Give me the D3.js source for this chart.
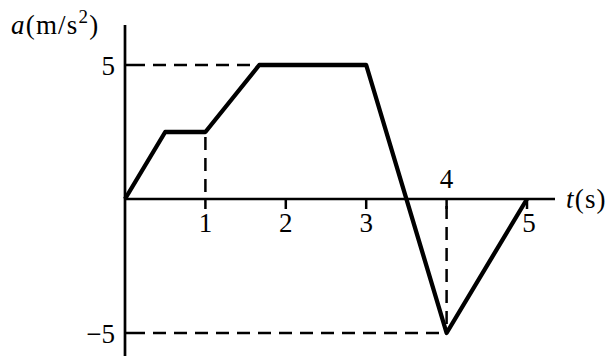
<!DOCTYPE html>
<html>
<head>
<meta charset="utf-8">
<script src="https://cdn.jsdelivr.net/npm/d3@7"></script>
<style>
  body { margin: 0; background: #fff; }
  text { font-family: "Liberation Serif", "DejaVu Serif", serif; fill: #000; }
</style>
</head>
<body>
<div id="chart"></div>
<script>
// acceleration profile a(t)
const times = [0, 0.5, 1, 1.67, 3, 4, 5];
const accels = [0, 2.5, 2.5, 5, 5, -5, 0];

const xTicks = [1, 2, 3, 4, 5];
const yTicks = [5, -5];

const width = 610;
const height = 360;

const x = d3.scaleLinear().domain([0, 5]).range([125, 527]);
const y = d3.scaleLinear().domain([-5, 5]).range([333, 65]);

const svg = d3.select("#chart").append("svg")
    .attr("width", width)
    .attr("height", height);

// dashed guides
const guides = [
    [[0, 5], [3, 5]],
    [[0, -5], [4, -5]],
    [[1, 0], [1, 2.5]],
    [[4, 0], [4, -5]]
];
svg.append("g")
    .selectAll("line")
    .data(guides)
    .join("line")
        .attr("x1", d => x(d[0][0]))
        .attr("y1", d => y(d[0][1]))
        .attr("x2", d => x(d[1][0]))
        .attr("y2", d => y(d[1][1]))
        .attr("stroke", "#000")
        .attr("stroke-width", 2.5)
        .attr("stroke-dasharray", "13,8")
        .attr("stroke-dashoffset", -7);

// axes
svg.append("line")
    .attr("x1", x(0)).attr("x2", 555)
    .attr("y1", y(0)).attr("y2", y(0))
    .attr("stroke", "#000").attr("stroke-width", 2.7);
svg.append("line")
    .attr("x1", x(0)).attr("x2", x(0))
    .attr("y1", 25).attr("y2", 356)
    .attr("stroke", "#000").attr("stroke-width", 2.7);

// x ticks (4 gets its label above the axis)
svg.append("g")
    .selectAll("line")
    .data(xTicks)
    .join("line")
        .attr("x1", d => x(d)).attr("x2", d => x(d))
        .attr("y1", y(0)).attr("y2", y(0) + 10)
        .attr("stroke", "#000").attr("stroke-width", 2.5);

svg.append("g")
    .selectAll("text")
    .data(xTicks)
    .join("text")
        .attr("x", d => x(d) + (d === 5 ? 2 : 0))
        .attr("y", d => d === 4 ? y(0) - 11 : y(0) + 33)
        .attr("text-anchor", "middle")
        .attr("font-size", 27)
        .text(d => d);

// y ticks
svg.append("g")
    .selectAll("line")
    .data(yTicks)
    .join("line")
        .attr("x1", x(0)).attr("x2", x(0) + 7)
        .attr("y1", d => y(d)).attr("y2", d => y(d))
        .attr("stroke", "#000").attr("stroke-width", 2.5);

svg.append("g")
    .selectAll("text")
    .data(yTicks)
    .join("text")
        .attr("x", 115)
        .attr("y", d => y(d) + 10)
        .attr("text-anchor", "end")
        .attr("font-size", 27)
        .text(d => d < 0 ? "\u2212" + Math.abs(d) : d);

// axis titles
const yt = svg.append("text")
    .attr("x", 11).attr("y", 34)
    .attr("font-size", 27)
    .attr("letter-spacing", 1.2);
yt.append("tspan").attr("font-style", "italic").text("a");
yt.append("tspan").text("(m/s");
yt.append("tspan").attr("font-size", 19).attr("dy", -11).text("2");
yt.append("tspan").attr("dy", 11).text(")");

const xt = svg.append("text")
    .attr("x", 566).attr("y", y(0) + 9)
    .attr("font-size", 27)
    .attr("letter-spacing", 1.2);
xt.append("tspan").attr("font-style", "italic").text("t");
xt.append("tspan").text("(s)");

// the curve
const line = d3.line()
    .x((d, i) => x(times[i]))
    .y(d => y(d));

svg.append("path")
    .datum(accels)
    .attr("d", line)
    .attr("fill", "none")
    .attr("stroke", "#000")
    .attr("stroke-width", 4.3)
    .attr("stroke-linejoin", "round");
</script>
</body>
</html>
